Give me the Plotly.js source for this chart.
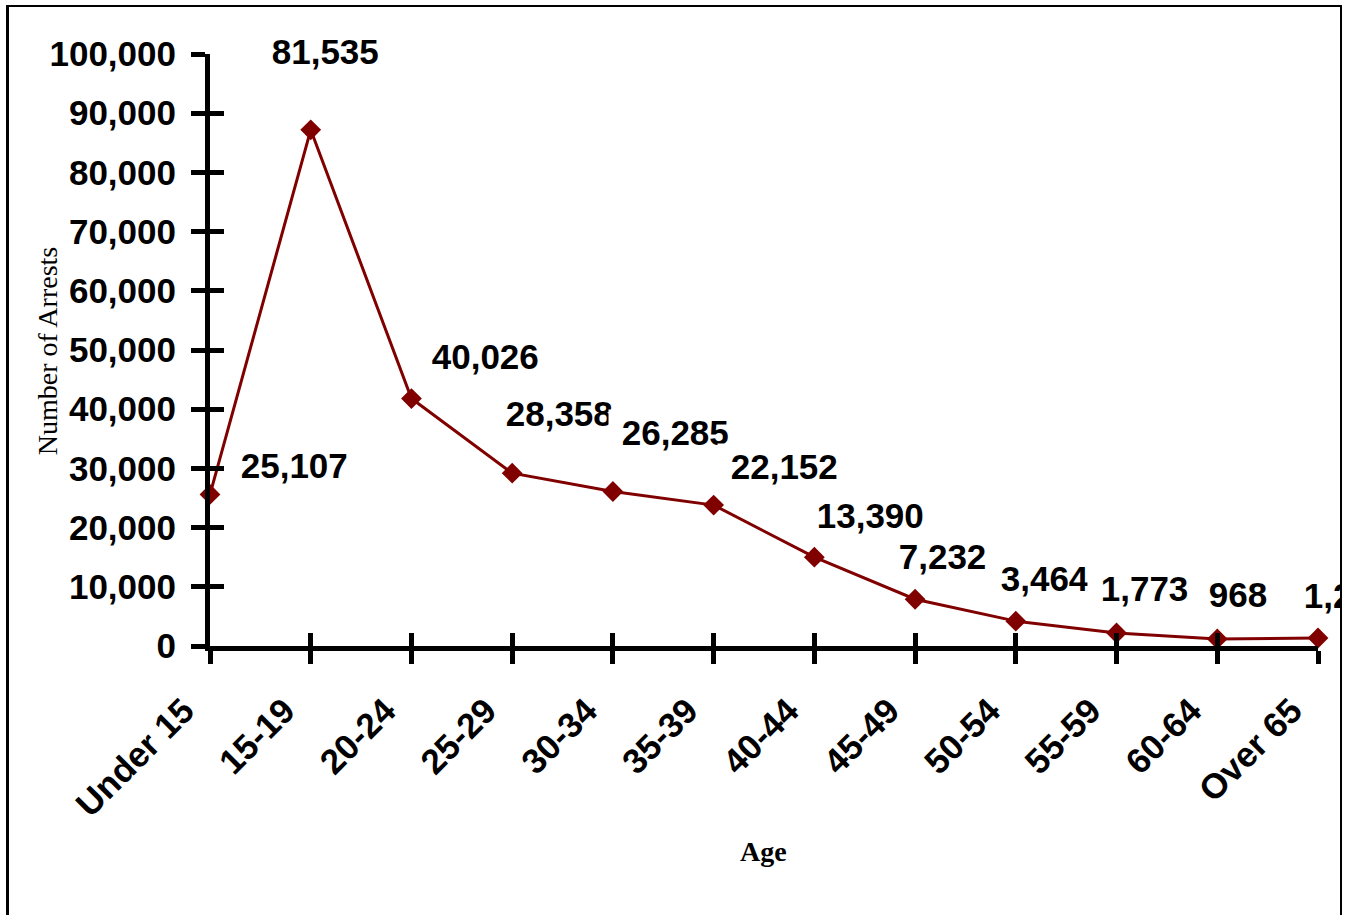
<!DOCTYPE html>
<html>
<head>
<meta charset="utf-8">
<script src="https://cdn.plot.ly/plotly-3.0.1.min.js"></script>
<style>
  html, body { margin: 0; padding: 0; background: #fff; overflow: hidden; }
  #wrap { position: relative; width: 1360px; height: 915px; }
  #chart { position: absolute; left: 0; top: 0; width: 1340px; height: 915px; }
  #frame { position: absolute; left: 6px; top: 5px; width: 1336px; height: 1000px;
           border-left: 3px solid #000; border-top: 2px solid #000; border-right: 2px solid #000;
           box-sizing: border-box; pointer-events: none; }
</style>
</head>
<body>
<div id="wrap">
  <div id="chart"></div>
  <div id="frame"></div>
</div>
<script>
// ---- data ----
const ageGroups = ["Under 15", "15-19", "20-24", "25-29", "30-34", "35-39",
                   "40-44", "45-49", "50-54", "55-59", "60-64", "Over 65"];
// plotted positions
const arrestPoints = [25600, 87200, 41800, 29200, 26100, 23800, 15000, 7900, 4200, 2200, 1200, 1350];
// data label texts as printed in the picture
const arrestLabels = ["25,107", "81,535", "40,026", "28,358", "26,285", "22,152",
                      "13,390", "7,232", "3,464", "1,773", "968", "1,245"];
const yTickValues = [0, 10000, 20000, 30000, 40000, 50000, 60000, 70000, 80000, 90000, 100000];
const yTickText = ["0", "10,000", "20,000", "30,000", "40,000", "50,000",
                   "60,000", "70,000", "80,000", "90,000", "100,000"];

// ---- styling / label placement (pixel offsets of each label's text from its point) ----
const labelOffsets = [[33, 29], [-37, 78], [23, 42], [-4, 60], [11, 59], [19, 39],
                      [5, 42], [-14, 43], [-13, 43], [-14, 44], [-6, 44], [-12, 43]];
const SANS = "Liberation Sans, Arial, sans-serif";
const SERIF = "Liberation Serif, Times New Roman, serif";
const RED = "#800000";
const PAD = 3;

const trace = {
  x: ageGroups,
  y: arrestPoints,
  type: "scatter",
  mode: "lines+markers",
  line: { color: RED, width: 3 },
  marker: { symbol: "diamond", size: 16, color: RED },
  cliponaxis: false,
  hoverinfo: "skip",
  xaxis: "x",
  yaxis: "y"
};

// white label boxes with extra room on the left (like the original's label boxes)
const annotations = arrestLabels.map((t, i) => ({
  x: ageGroups[i], y: arrestPoints[i], xref: "x", yref: "y",
  text: "\u00A0" + t, showarrow: false,
  xanchor: "left", yanchor: "middle",
  xshift: labelOffsets[i][0] - 16, yshift: labelOffsets[i][1],
  bgcolor: "#ffffff", borderpad: PAD,
  font: { family: SANS, size: 35, color: "#000", weight: 700 }
}));

annotations.push({
  xref: "paper", yref: "paper", x: -0.1465, y: 0.4975,
  text: "Number of Arrests", textangle: -90, showarrow: false,
  xanchor: "center", yanchor: "middle",
  font: { family: SERIF, size: 28, color: "#000" }
});
annotations.push({
  xref: "paper", yref: "paper", x: 0.4995, y: -0.347,
  text: "Age", showarrow: false,
  xanchor: "center", yanchor: "middle",
  font: { family: SERIF, size: 28, color: "#000", weight: 700 }
});

const layout = {
  width: 1340, height: 915,
  margin: { l: 210, r: 22, t: 54, b: 269, pad: 0 },
  paper_bgcolor: "rgba(0,0,0,0)",
  plot_bgcolor: "rgba(0,0,0,0)",
  showlegend: false,
  xaxis: {
    type: "category",
    range: [0, 11],
    showgrid: false, zeroline: false,
    showline: true, linecolor: "#000", linewidth: 5,
    ticks: "outside", ticklen: 13, tickwidth: 5, tickcolor: "#000",
    tickangle: -45,
    ticklabelstandoff: 12, ticklabelshift: -26,
    tickfont: { family: SANS, size: 35, color: "#000", weight: 700 },
    fixedrange: true
  },
  xaxis2: {
    overlaying: "x", anchor: "y", side: "bottom",
    type: "linear", range: [0, 11], tickmode: "linear", tick0: 0, dtick: 1,
    showgrid: false, zeroline: false, showline: false, showticklabels: false,
    ticks: "inside", ticklen: 13, tickwidth: 5, tickcolor: "#000",
    fixedrange: true
  },
  yaxis: {
    range: [0, 100000],
    tickmode: "array", tickvals: yTickValues, ticktext: yTickText,
    showgrid: false, zeroline: false,
    showline: true, linecolor: "#000", linewidth: 5,
    ticks: "outside", ticklen: 14, tickwidth: 5, tickcolor: "#000",
    ticklabelstandoff: 8,
    tickfont: { family: SANS, size: 35, color: "#000", weight: 700 },
    fixedrange: true
  },
  yaxis2: {
    overlaying: "y", anchor: "x", side: "left",
    range: [0, 100000],
    tickmode: "array", tickvals: yTickValues,
    showgrid: false, zeroline: false, showline: false, showticklabels: false,
    ticks: "inside", ticklen: 14, tickwidth: 5, tickcolor: "#000",
    fixedrange: true
  },
  annotations: annotations
};

// invisible helper trace so the overlay tick axes render
const helper = { x: [0], y: [0], xaxis: "x2", yaxis: "y2", type: "scatter", mode: "markers",
                 marker: { opacity: 0 }, hoverinfo: "skip" };

Plotly.newPlot("chart", [helper, trace], layout, { staticPlot: true, displayModeBar: false });
</script>
</body>
</html>
